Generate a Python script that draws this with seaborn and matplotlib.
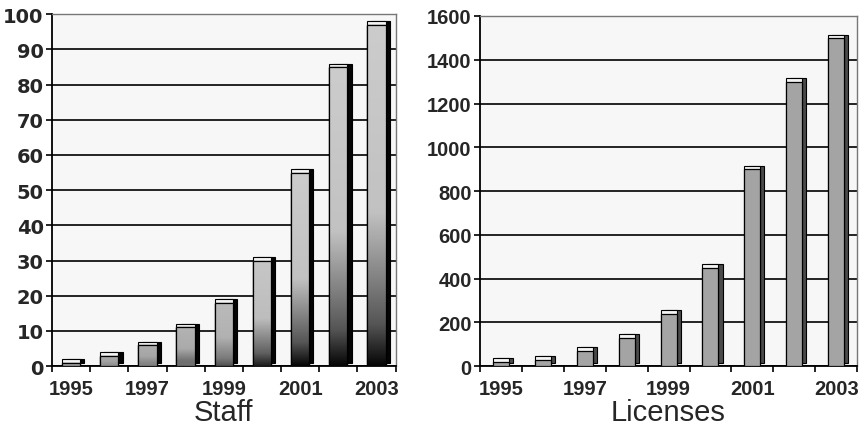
import numpy as np
import pandas as pd
import matplotlib
matplotlib.use("Agg")
import matplotlib.pyplot as plt
import matplotlib.patheffects as pe
from matplotlib.patches import Rectangle
from matplotlib.colors import LinearSegmentedColormap
import seaborn as sns

years = ["1995", "1996", "1997", "1998", "1999", "2000", "2001", "2002", "2003"]
staff = [1, 3, 6, 11, 18, 30, 55, 85, 97]
licenses = [20, 30, 70, 130, 240, 450, 900, 1300, 1500]
staff_ticks = list(range(0, 101, 10))
license_ticks = list(range(0, 1601, 200))
titles = ["Staff", "Licenses"]

sns.set_theme(style="white")
plt.rcParams['font.family'] = ['Liberation Sans', 'DejaVu Sans']

fig = plt.figure(figsize=(8.59, 4.35), dpi=100)
ax1 = fig.add_axes([0.0605, 0.156, 0.40, 0.809])
ax2 = fig.add_axes([0.5588, 0.156, 0.439, 0.805])


def style_axes(ax, values, yticks, title, width, gradient, yfont, yfs, side):
    df = pd.DataFrame({"year": years, "value": values})
    sns.barplot(data=df, x="year", y="value", ax=ax, width=width,
                color="#a4a4a4", edgecolor="black", linewidth=0.9,
                saturation=1, zorder=3)
    ymax = yticks[-1]
    ax.set_facecolor("#f7f7f7")
    ax.set_yticks(yticks)
    ax.set_yticklabels([str(t) for t in yticks], fontweight="bold", fontsize=yfs,
                       family=yfont)
    ax.yaxis.grid(True, color="black", linewidth=1.2)
    ax.set_axisbelow(True)
    ax.set_xticks(np.arange(-0.5, len(years), 1.0))
    ax.set_xticklabels([])
    ax.set_xticks(np.arange(0, len(years), 2), minor=True)
    ax.set_xticklabels(years[::2], minor=True, fontweight="bold", fontsize=14.5)
    ax.tick_params(axis="x", which="major", length=4, width=1.2, color="black", direction="out", bottom=True)
    ax.tick_params(axis="x", which="minor", length=0, pad=9)
    ax.tick_params(axis="y", length=4, width=1.2, color="black", direction="out", left=True, pad=2)
    ax.set_xlabel(title, fontsize=21, labelpad=0)
    ax.set_ylabel("")
    for s in ["left", "bottom"]:
        ax.spines[s].set_color("black")
        ax.spines[s].set_linewidth(1.3)
    for s in ["top", "right"]:
        ax.spines[s].set_color("#777777")
        ax.spines[s].set_linewidth(1.0)
    bars = list(ax.patches)
    for p in bars:
        p.set_path_effects([
            pe.PathPatchEffect(offset=(3, 2.4), facecolor=side, edgecolor="black", linewidth=0.8),
            pe.PathPatchEffect(offset=(0, 2.4), facecolor="#f4f4f4", edgecolor="black", linewidth=0.8),
            pe.Normal()])
        x0, w, h = p.get_x(), p.get_width(), p.get_height()
        if gradient:
            frac = min(1.0, h / (0.35 * ymax))
            bottom = np.array([0.62, 0.62, 0.62]) * (1 - frac) + np.array([0.02, 0.02, 0.02]) * frac
            top = np.array([0.66, 0.66, 0.66]) * (1 - frac) + np.array([0.80, 0.80, 0.80]) * frac
            cmap = LinearSegmentedColormap.from_list(
                "g", [(0.0, bottom), (0.12, bottom * 0.6 + top * 0.4 if frac > 0.5 else bottom),
                      (0.45, top * 0.95), (1.0, top)])
            img = np.linspace(0, 1, 256).reshape(-1, 1)
            im = ax.imshow(img, cmap=cmap, origin="lower", aspect="auto",
                           extent=[x0, x0 + w, 0, h], zorder=3.5, vmin=0, vmax=1)
            im.set_clip_path(p)
            ax.add_patch(Rectangle((x0, 0), w, h, facecolor="none", edgecolor="black",
                                   linewidth=0.9, zorder=4))
    ax.set_xlim(-0.5, len(years) - 0.5)
    ax.set_ylim(0, ymax)


style_axes(ax1, staff, staff_ticks, titles[0], 0.48, True, "DejaVu Sans", 14, "#050505")
style_axes(ax2, licenses, license_ticks, titles[1], 0.38, False, "Liberation Sans", 14.5, "#4a4a4a")

fig.savefig("out.png", dpi=100)
